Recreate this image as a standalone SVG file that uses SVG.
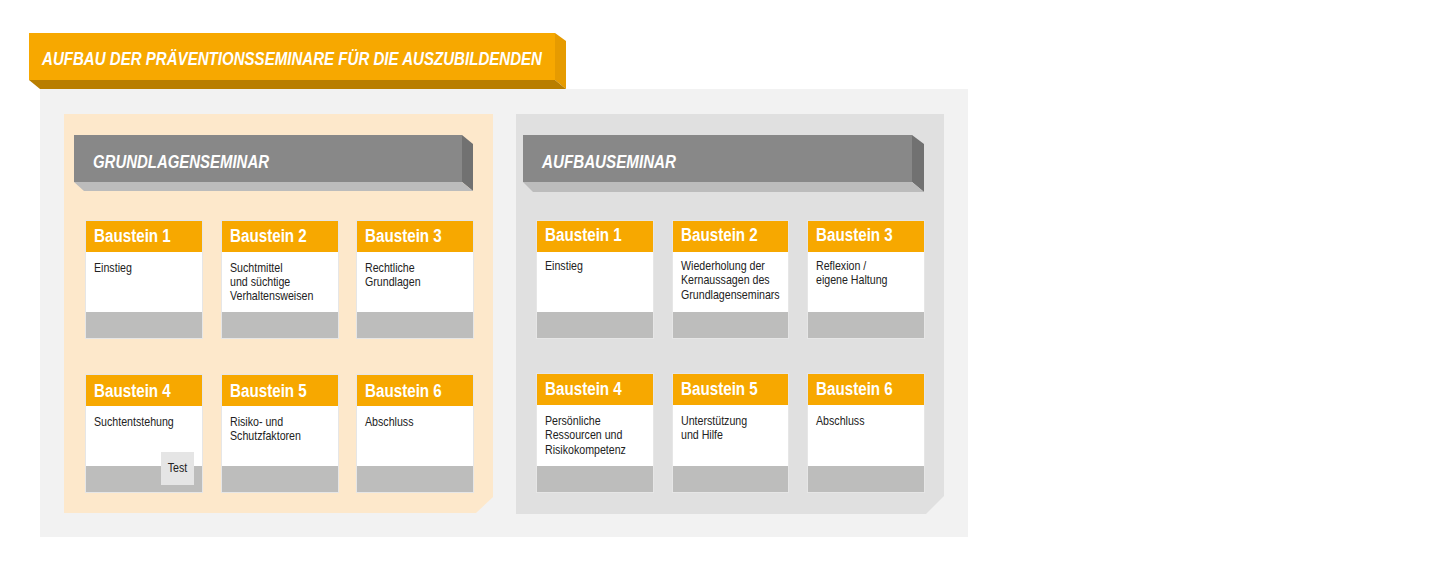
<svg xmlns="http://www.w3.org/2000/svg" width="1449" height="569" viewBox="0 0 1449 569">
<style>
.hd{font-family:"Liberation Sans",Arial,sans-serif;font-weight:bold;font-size:19px;fill:#fff}
.tt{font-family:"Liberation Sans",Arial,sans-serif;font-weight:bold;font-style:italic;font-size:19px;fill:#fff}
.bd{font-family:"Liberation Sans",Arial,sans-serif;font-size:13.3px;fill:#222}
.or{fill:#F7A800}
.wh{fill:#fff}
.gr{fill:#BDBDBC}
.bx{fill:none;stroke:#E6E6E6;stroke-width:1}
</style>
<rect width="1449" height="569" fill="#fff"/>
<g id="background">
<rect x="40" y="89" width="928" height="448" fill="#F2F2F2"/>
</g>
<g id="title">
<rect x="29" y="33" width="526" height="47" fill="#F7A800"/>
<polygon points="555,33 566,41 566,89 555,80" fill="#E69B00"/>
<polygon points="29,80 555,80 566,89 40,89" fill="#B97E00"/>
<text class="tt" x="42" y="64.5" textLength="500" lengthAdjust="spacingAndGlyphs">AUFBAU DER PRÄVENTIONSSEMINARE FÜR DIE AUSZUBILDENDEN</text>
</g>
<g id="grundlagenseminar">
<polygon points="64,114 493,114 493,497 476,513 64,513" fill="#FDE8CB"/>
<rect x="74" y="135" width="388" height="47" fill="#888888"/>
<polygon points="462,135 473,144 473,191 462,182" fill="#717171"/>
<polygon points="74,182 462,182 473,191 84,191" fill="#BCBCBC"/>
<text class="tt" x="93" y="167.5" textLength="176" lengthAdjust="spacingAndGlyphs">GRUNDLAGENSEMINAR</text>
</g>
<g id="aufbauseminar">
<polygon points="516,114 944,114 944,496 926,514 516,514" fill="#E0E0E0"/>
<rect x="523" y="135" width="389" height="47" fill="#888888"/>
<polygon points="912,135 924,144 924,192 912,182" fill="#717171"/>
<polygon points="523,182 912,182 924,192 533,192" fill="#BCBCBC"/>
<text class="tt" x="542" y="167.5" textLength="134" lengthAdjust="spacingAndGlyphs">AUFBAUSEMINAR</text>
</g>
<g id="g-baustein1">
<rect class="or" x="85" y="220" width="118" height="32"/><rect class="wh" x="85" y="252" width="118" height="60"/><rect class="gr" x="85" y="312" width="118" height="27"/><rect class="bx" x="85.5" y="220.5" width="117" height="118"/>
<text class="hd" transform="translate(94 241.5) scale(0.8 1)">Baustein 1</text>
<text class="bd" transform="translate(94 271.5) scale(0.8 1)">Einstieg</text>
</g>
<g id="g-baustein2">
<rect class="or" x="221" y="220" width="118" height="32"/><rect class="wh" x="221" y="252" width="118" height="60"/><rect class="gr" x="221" y="312" width="118" height="27"/><rect class="bx" x="221.5" y="220.5" width="117" height="118"/>
<text class="hd" transform="translate(230 241.5) scale(0.8 1)">Baustein 2</text>
<text class="bd" transform="translate(230 271.5) scale(0.8 1)">Suchtmittel</text>
<text class="bd" transform="translate(230 285.8) scale(0.8 1)">und süchtige</text>
<text class="bd" transform="translate(230 300.1) scale(0.8 1)">Verhaltensweisen</text>
</g>
<g id="g-baustein3">
<rect class="or" x="356" y="220" width="118" height="32"/><rect class="wh" x="356" y="252" width="118" height="60"/><rect class="gr" x="356" y="312" width="118" height="27"/><rect class="bx" x="356.5" y="220.5" width="117" height="118"/>
<text class="hd" transform="translate(365 241.5) scale(0.8 1)">Baustein 3</text>
<text class="bd" transform="translate(365 271.5) scale(0.8 1)">Rechtliche</text>
<text class="bd" transform="translate(365 285.8) scale(0.8 1)">Grundlagen</text>
</g>
<g id="g-baustein4">
<rect class="or" x="85" y="374" width="118" height="32"/><rect class="wh" x="85" y="406" width="118" height="60"/><rect class="gr" x="85" y="466" width="118" height="27"/><rect class="bx" x="85.5" y="374.5" width="117" height="118"/>
<text class="hd" transform="translate(94 396.5) scale(0.8 1)">Baustein 4</text>
<text class="bd" transform="translate(94 426) scale(0.8 1)">Suchtentstehung</text>
<rect x="161" y="452" width="33" height="33" fill="#E5E5E5"/>
<text class="bd" text-anchor="middle" transform="translate(177.5 472) scale(0.8 1)">Test</text>
</g>
<g id="g-baustein5">
<rect class="or" x="221" y="374" width="118" height="32"/><rect class="wh" x="221" y="406" width="118" height="60"/><rect class="gr" x="221" y="466" width="118" height="27"/><rect class="bx" x="221.5" y="374.5" width="117" height="118"/>
<text class="hd" transform="translate(230 396.5) scale(0.8 1)">Baustein 5</text>
<text class="bd" transform="translate(230 426) scale(0.8 1)">Risiko- und</text>
<text class="bd" transform="translate(230 440.3) scale(0.8 1)">Schutzfaktoren</text>
</g>
<g id="g-baustein6">
<rect class="or" x="356" y="374" width="118" height="32"/><rect class="wh" x="356" y="406" width="118" height="60"/><rect class="gr" x="356" y="466" width="118" height="27"/><rect class="bx" x="356.5" y="374.5" width="117" height="118"/>
<text class="hd" transform="translate(365 396.5) scale(0.8 1)">Baustein 6</text>
<text class="bd" transform="translate(365 426) scale(0.8 1)">Abschluss</text>
</g>
<g id="a-baustein1">
<rect class="or" x="536" y="220" width="118" height="32"/><rect class="wh" x="536" y="252" width="118" height="60"/><rect class="gr" x="536" y="312" width="118" height="27"/><rect class="bx" x="536.5" y="220.5" width="117" height="118"/>
<text class="hd" transform="translate(545 240.5) scale(0.8 1)">Baustein 1</text>
<text class="bd" transform="translate(545 270) scale(0.8 1)">Einstieg</text>
</g>
<g id="a-baustein2">
<rect class="or" x="672" y="220" width="117" height="32"/><rect class="wh" x="672" y="252" width="117" height="60"/><rect class="gr" x="672" y="312" width="117" height="27"/><rect class="bx" x="672.5" y="220.5" width="116" height="118"/>
<text class="hd" transform="translate(681 240.5) scale(0.8 1)">Baustein 2</text>
<text class="bd" transform="translate(681 270) scale(0.8 1)">Wiederholung der</text>
<text class="bd" transform="translate(681 284.3) scale(0.8 1)">Kernaussagen des</text>
<text class="bd" transform="translate(681 298.6) scale(0.8 1)">Grundlagenseminars</text>
</g>
<g id="a-baustein3">
<rect class="or" x="807" y="220" width="118" height="32"/><rect class="wh" x="807" y="252" width="118" height="60"/><rect class="gr" x="807" y="312" width="118" height="27"/><rect class="bx" x="807.5" y="220.5" width="117" height="118"/>
<text class="hd" transform="translate(816 240.5) scale(0.8 1)">Baustein 3</text>
<text class="bd" transform="translate(816 270) scale(0.8 1)">Reflexion /</text>
<text class="bd" transform="translate(816 284.3) scale(0.8 1)">eigene Haltung</text>
</g>
<g id="a-baustein4">
<rect class="or" x="536" y="373" width="118" height="32"/><rect class="wh" x="536" y="405" width="118" height="61"/><rect class="gr" x="536" y="466" width="118" height="27"/><rect class="bx" x="536.5" y="373.5" width="117" height="119"/>
<text class="hd" transform="translate(545 394.5) scale(0.8 1)">Baustein 4</text>
<text class="bd" transform="translate(545 425) scale(0.8 1)">Persönliche</text>
<text class="bd" transform="translate(545 439.3) scale(0.8 1)">Ressourcen und</text>
<text class="bd" transform="translate(545 453.6) scale(0.8 1)">Risikokompetenz</text>
</g>
<g id="a-baustein5">
<rect class="or" x="672" y="373" width="117" height="32"/><rect class="wh" x="672" y="405" width="117" height="61"/><rect class="gr" x="672" y="466" width="117" height="27"/><rect class="bx" x="672.5" y="373.5" width="116" height="119"/>
<text class="hd" transform="translate(681 394.5) scale(0.8 1)">Baustein 5</text>
<text class="bd" transform="translate(681 425) scale(0.8 1)">Unterstützung</text>
<text class="bd" transform="translate(681 439.3) scale(0.8 1)">und Hilfe</text>
</g>
<g id="a-baustein6">
<rect class="or" x="807" y="373" width="118" height="32"/><rect class="wh" x="807" y="405" width="118" height="61"/><rect class="gr" x="807" y="466" width="118" height="27"/><rect class="bx" x="807.5" y="373.5" width="117" height="119"/>
<text class="hd" transform="translate(816 394.5) scale(0.8 1)">Baustein 6</text>
<text class="bd" transform="translate(816 425) scale(0.8 1)">Abschluss</text>
</g>
<g id="connectors"></g>
</svg>
